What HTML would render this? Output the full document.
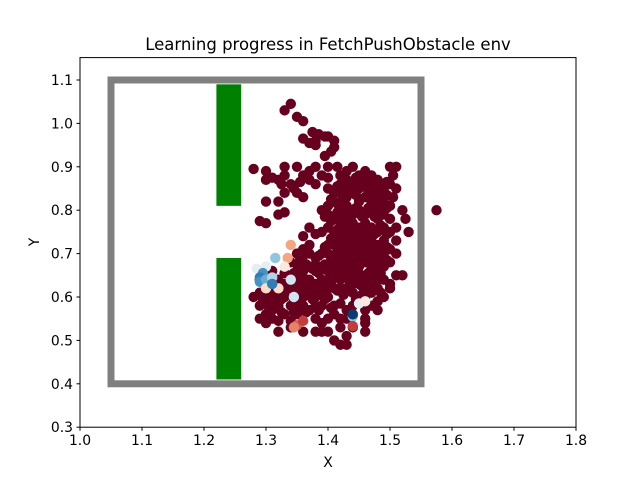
<!DOCTYPE html>
<html><head><meta charset="utf-8">
<style>
body{margin:0;background:#fff;}
svg{display:block;font-family:"DejaVu Sans","Liberation Sans",sans-serif;}
</style></head>
<body>
<svg id="chart" width="640" height="480" viewBox="0 0 640 480">
<rect x="0" y="0" width="640" height="480" fill="#fff"/>
<g id="plot"></g>
<rect x="80" y="57.6" width="496" height="369.6" fill="none" stroke="#000" stroke-width="1"/>
<g id="xt"></g>
<g id="yt"></g>
<text x="328" y="50" text-anchor="middle" font-size="16.5">Learning progress in FetchPushObstacle env</text>
<text x="328" y="467" text-anchor="middle" font-size="13.9">X</text>
<text x="39" y="242" text-anchor="middle" font-size="13.9" transform="rotate(-90 39 242)">Y</text>
</svg>
<script>
const xTicks=[1.0,1.1,1.2,1.3,1.4,1.5,1.6,1.7,1.8];
const xTickLabels=["1.0","1.1","1.2","1.3","1.4","1.5","1.6","1.7","1.8"];
const yTicks=[0.3,0.4,0.5,0.6,0.7,0.8,0.9,1.0,1.1];
const yTickLabels=["0.3","0.4","0.5","0.6","0.7","0.8","0.9","1.0","1.1"];
const table=[1.05,0.4,1.55,1.1];
const obstacles=[[1.22,0.41,1.26,0.69],[1.22,0.81,1.26,1.09]];
const latePts=[
[1.34,1.045],[1.33,1.03],[1.35,1.015],[1.36,1.005],[1.375,0.98],[1.385,0.975],[1.395,0.97],[1.40,0.97],[1.38,0.96],[1.41,0.96],[1.41,0.945],[1.405,0.935],[1.395,0.925],[1.38,0.95],[1.37,0.955],[1.36,0.965],[1.40,0.90],[1.33,0.90],[1.35,0.90],[1.34,0.86],[1.355,0.865],[1.33,0.88],[1.28,0.895],[1.30,0.89],[1.30,0.87],[1.31,0.875],[1.32,0.87],[1.325,0.86],[1.33,0.84],[1.345,0.85],[1.35,0.84],[1.36,0.83],[1.30,0.82],[1.32,0.82],[1.32,0.79],[1.33,0.795],[1.29,0.775],[1.30,0.77],[1.36,0.88],[1.37,0.87],[1.38,0.86],[1.39,0.88],[1.38,0.90],[1.37,0.89],[1.40,0.875],[1.415,0.90],[1.42,0.88],[1.43,0.89],[1.44,0.90],[1.45,0.88],[1.46,0.89],[1.47,0.88],[1.48,0.87],[1.50,0.90],[1.51,0.90],[1.505,0.88],[1.50,0.86],[1.51,0.85],[1.505,0.83],[1.52,0.80],[1.525,0.78],[1.53,0.75],[1.575,0.80],[1.51,0.76],[1.51,0.73],[1.51,0.70],[1.51,0.65],[1.52,0.65],[1.50,0.62],[1.49,0.60],[1.50,0.63],
[1.42,0.86],[1.43,0.87],[1.44,0.86],[1.45,0.85],[1.46,0.86],[1.47,0.85],[1.48,0.84],[1.49,0.85],[1.42,0.84],[1.43,0.83],[1.44,0.84],[1.45,0.82],[1.46,0.83],[1.47,0.82],[1.48,0.81],[1.49,0.82],[1.50,0.81],[1.41,0.82],[1.42,0.80],[1.43,0.81],[1.44,0.79],[1.45,0.80],[1.46,0.79],[1.47,0.80],[1.48,0.78],[1.49,0.79],[1.50,0.78],[1.41,0.78],[1.42,0.77],[1.43,0.76],[1.44,0.77],[1.45,0.76],[1.46,0.77],[1.47,0.76],[1.48,0.75],[1.49,0.76],[1.50,0.75],[1.42,0.74],[1.43,0.73],[1.44,0.74],[1.45,0.73],[1.46,0.74],[1.47,0.73],[1.48,0.72],[1.49,0.73],[1.41,0.72],[1.42,0.71],[1.43,0.70],[1.44,0.71],[1.45,0.70],[1.46,0.71],[1.47,0.70],[1.48,0.69],[1.49,0.70],[1.50,0.71],[1.40,0.70],[1.41,0.69],[1.42,0.68],[1.43,0.67],[1.44,0.68],[1.45,0.67],[1.46,0.68],[1.47,0.67],[1.48,0.66],[1.49,0.67],[1.50,0.68],[1.40,0.66],[1.41,0.65],[1.42,0.64],[1.43,0.65],[1.44,0.64],[1.45,0.63],[1.46,0.64],[1.47,0.63],[1.48,0.62],[1.49,0.64],[1.44,0.61],[1.46,0.60],[1.47,0.61],[1.45,0.59],[1.48,0.59],[1.43,0.62],[1.41,0.62],[1.40,0.72],[1.39,0.70],[1.38,0.69],[1.39,0.67],[1.38,0.66],[1.37,0.67],[1.36,0.66],[1.37,0.64],[1.38,0.63],[1.39,0.64],[1.36,0.63],[1.35,0.64],[1.35,0.66],[1.36,0.68],[1.34,0.65],[1.33,0.63],[1.34,0.62],[1.35,0.61],[1.36,0.60],[1.37,0.61],[1.38,0.60],[1.39,0.61],[1.40,0.62],[1.40,0.60],[1.39,0.58],[1.38,0.58],[1.37,0.57],[1.36,0.58],[1.35,0.59],[1.34,0.58],[1.33,0.60],[1.32,0.61],[1.31,0.60],[1.32,0.58],[1.31,0.57],[1.30,0.56],[1.31,0.55],[1.33,0.56],[1.32,0.545],[1.34,0.545],[1.29,0.55],[1.30,0.54],[1.29,0.58],[1.30,0.59],[1.28,0.60],[1.29,0.61],[1.30,0.625],[1.32,0.64],[1.33,0.655],[1.34,0.68],[1.35,0.70],[1.36,0.71],[1.37,0.72],[1.36,0.74],[1.38,0.745],[1.37,0.76],[1.39,0.75],[1.40,0.76],[1.41,0.75],[1.40,0.79],[1.39,0.80],[1.40,0.81],[1.41,0.84],[1.42,0.82],[1.40,0.85],[1.47,0.655],[1.48,0.64],[1.45,0.655],[1.43,0.69],[1.44,0.66],[1.42,0.66],[1.41,0.67],[1.42,0.62],[1.44,0.63],[1.46,0.62],[1.40,0.64],
[1.38,0.55],[1.39,0.54],[1.40,0.55],[1.41,0.56],[1.42,0.55],[1.43,0.57],[1.41,0.58],[1.42,0.585],[1.44,0.58],[1.36,0.52],[1.38,0.52],[1.39,0.52],[1.40,0.52],[1.41,0.50],[1.42,0.49],[1.43,0.49],[1.43,0.51],[1.42,0.53],[1.44,0.53],[1.46,0.55],[1.46,0.54],[1.46,0.52],[1.35,0.56],[1.34,0.53],[1.32,0.52],[1.46,0.57],[1.47,0.58],[1.48,0.57],[1.43,0.55],[1.35,0.62],[1.36,0.645],[1.38,0.675],[1.37,0.70],[1.29,0.64],[1.31,0.66],[1.30,0.60],
[1.425,0.855],[1.435,0.845],[1.445,0.835],[1.455,0.865],[1.465,0.845],[1.475,0.835],[1.485,0.825],[1.495,0.835],[1.425,0.815],[1.435,0.795],[1.445,0.805],[1.455,0.785],[1.465,0.805],[1.475,0.785],[1.485,0.795],[1.495,0.805],[1.415,0.795],[1.425,0.785],[1.435,0.775],[1.445,0.755],[1.455,0.745],[1.465,0.755],[1.475,0.745],[1.485,0.765],[1.495,0.745],[1.425,0.755],[1.415,0.735],[1.435,0.745],[1.445,0.725],[1.455,0.715],[1.465,0.725],[1.475,0.715],[1.485,0.705],[1.495,0.715],[1.425,0.725],[1.435,0.715],[1.415,0.705],[1.425,0.695],[1.435,0.685],[1.445,0.695],[1.455,0.685],[1.465,0.695],[1.475,0.685],[1.485,0.675],[1.495,0.685],[1.405,0.685],[1.415,0.675],[1.425,0.665],[1.435,0.655],[1.445,0.645],[1.455,0.645],[1.465,0.655],[1.475,0.645],[1.485,0.655],[1.455,0.625],[1.435,0.635],[1.415,0.645],[1.405,0.655],[1.395,0.675],[1.385,0.655],[1.375,0.665],[1.365,0.675],[1.375,0.625],[1.385,0.615],[1.365,0.615],[1.355,0.625],[1.345,0.635],[1.395,0.625],[1.405,0.635],[1.385,0.695],[1.395,0.715],[1.405,0.735],[1.415,0.755],[1.405,0.775],[1.395,0.785],[1.415,0.815],[1.405,0.825],[1.415,0.855],[1.435,0.865],[1.445,0.875],[1.465,0.875],[1.475,0.865],[1.485,0.855],[1.495,0.865],[1.455,0.605],[1.465,0.615],[1.475,0.625],[1.485,0.61],[1.445,0.595],[1.425,0.605],[1.415,0.615],[1.355,0.605],[1.345,0.595],[1.325,0.595],[1.315,0.585],[1.325,0.565],[1.345,0.565],[1.375,0.595],[1.395,0.595],[1.405,0.575],[1.385,0.57],[1.365,0.565],[1.355,0.575],[1.305,0.575],[1.295,0.595],[1.33,0.61],[1.31,0.615],[1.345,0.655],[1.355,0.685],[1.36,0.695],[1.35,0.675]
];
const earlyPts=[[1.315,0.69],[1.34,0.72],[1.335,0.69],[1.33,0.67],[1.30,0.67],[1.285,0.665],[1.295,0.655],[1.29,0.645],[1.29,0.635],[1.30,0.64],[1.31,0.645],[1.30,0.62],[1.34,0.64],[1.32,0.62],[1.345,0.60],[1.44,0.555],[1.44,0.56],[1.45,0.585],[1.46,0.59],[1.35,0.535],[1.345,0.53],[1.44,0.533],[1.36,0.545],[1.31,0.63]];
const earlyVals=[0.3,0.7,0.7,0.55,0.45,0.45,0.2,0.15,0.2,0.25,0.35,0.6,0.4,0.6,0.4,0.3,0.02,0.45,0.55,0.8,0.75,0.85,0.85,0.15];

const X0=80,X1=576,Y0=427.2,Y1=57.6,xmin=1.0,xmax=1.8,ymin=0.3,ymax=1.1516;
function sx(v){return X0+(v-xmin)/(xmax-xmin)*(X1-X0);}
function sy(v){return Y0-(v-ymin)/(ymax-ymin)*(Y0-Y1);}
const stops=[[0,[5,48,97]],[0.1,[33,102,172]],[0.2,[67,147,195]],[0.3,[146,197,222]],[0.4,[209,229,240]],[0.5,[247,247,247]],[0.6,[253,219,199]],[0.7,[244,165,130]],[0.8,[214,96,77]],[0.9,[178,24,43]],[1,[103,0,31]]];
function cmap(v){for(let i=1;i<stops.length;i++){if(v<=stops[i][0]){const a=stops[i-1],b=stops[i],t=(v-a[0])/(b[0]-a[0]);const c=a[1].map((q,k)=>Math.round(q+(b[1][k]-q)*t));return `rgb(${c})`;}}return 'rgb(103,0,31)';}
const NS='http://www.w3.org/2000/svg';
function mk(tag,attrs,parent){const e=document.createElementNS(NS,tag);for(const k in attrs)e.setAttribute(k,attrs[k]);parent.appendChild(e);return e;}
const plot=document.getElementById('plot');
const tb=mk('rect',{x:sx(table[0]),y:sy(table[3]),width:sx(table[2])-sx(table[0]),height:sy(table[1])-sy(table[3]),fill:'none',stroke:'#808080','stroke-width':7},plot);


obstacles.forEach((o,i)=>{const r=mk('rect',{x:sx(o[0]),y:sy(o[3]),width:sx(o[2])-sx(o[0]),height:sy(o[1])-sy(o[3]),fill:'#008000'},plot);

});
latePts.forEach(p=>{const c=mk('circle',{cx:sx(p[0]),cy:sy(p[1]),r:5.2,fill:cmap(1)},plot);

});
earlyPts.forEach((p,i)=>{const c=mk('circle',{cx:sx(p[0]),cy:sy(p[1]),r:5.2,fill:cmap(earlyVals[i])},plot);

});
const xt=document.getElementById('xt'),yt=document.getElementById('yt');
xTicks.forEach((v,i)=>{const l=mk('line',{x1:sx(v),x2:sx(v),y1:Y0,y2:Y0+3.5,stroke:'#000'},xt);


const t=mk('text',{x:sx(v),y:Y0+18,'text-anchor':'middle','font-size':13.9},xt);t.textContent=xTickLabels[i];

});
yTicks.forEach((v,i)=>{const l=mk('line',{x1:X0-3.5,x2:X0,y1:sy(v),y2:sy(v),stroke:'#000'},yt);


const t=mk('text',{x:X0-7,y:sy(v)+5,'text-anchor':'end','font-size':13.9},yt);t.textContent=yTickLabels[i];

});
</script>
</body></html>
